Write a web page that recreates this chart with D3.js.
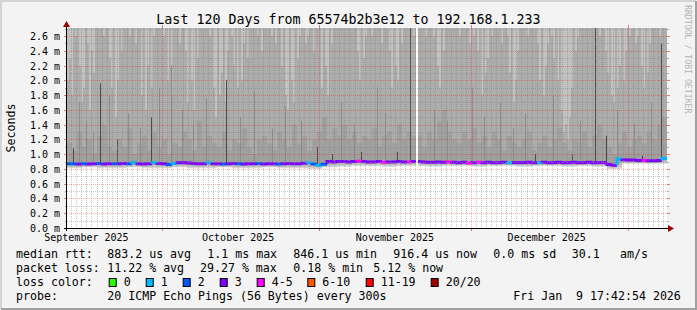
<!DOCTYPE html>
<html>
<head>
<meta charset="utf-8">
<title>Last 120 Days from 65574b2b3e12 to 192.168.1.233</title>
<script src="https://d3js.org/d3.v7.min.js"></script>
<style>
  body { margin: 0; background: #f3f3f3; }
  svg { display: block; font-family: "DejaVu Sans Mono", monospace; }
</style>
</head>
<body>
<svg id="chart" width="697" height="310"></svg>
<script>
// time window of the plot
var startTime = new Date(2025, 8, 12, 3, 50),
    endTime = new Date(2026, 0, 8, 18, 30);

// median rtt in ms, one value per day
var medianMs = [
  0.87,0.87,0.865,0.87,0.868,0.87,0.872,0.868,0.87,0.87,
  0.87,0.872,0.87,0.885,0.87,0.868,0.87,0.885,0.872,0.87,
  0.86,0.875,0.885,0.885,0.88,0.875,0.87,0.87,0.885,0.87,
  0.87,0.868,0.87,0.872,0.87,0.868,0.87,0.87,0.872,0.868,
  0.87,0.87,0.868,0.87,0.875,0.87,0.87,0.878,0.88,0.865,
  0.85,0.862,0.9,0.895,0.9,0.9,0.895,0.9,0.905,0.9,
  0.895,0.895,0.9,0.89,0.895,0.895,0.9,0.895,0.895,0.9,
  0.9,0.895,0.89,0.89,0.895,0.89,0.895,0.89,0.885,0.89,
  0.88,0.885,0.89,0.885,0.89,0.885,0.885,0.89,0.885,0.885,
  0.885,0.885,0.89,0.885,0.885,0.89,0.885,0.885,0.89,0.885,
  0.885,0.89,0.885,0.885,0.89,0.885,0.885,0.885,0.86,0.85,
  0.935,0.925,0.92,0.92,0.915,0.915,0.91,0.91,0.915,0.94
];
// lost pings (of 20) per day, sets median colour
var lossPings = [
  2,2,3,2,3,3,2,3,3,2,
  3,3,2,1,3,3,3,1,3,3,
  2,1,3,3,3,3,3,3,1,3,
  3,2,3,3,2,3,3,3,2,3,
  3,3,2,3,3,3,3,3,1,2,
  1,2,3,3,3,3,3,3,4,3,
  3,3,3,4,3,3,3,3,4,3,
  3,3,3,3,3,3,4,3,3,3,
  4,3,4,3,3,3,3,3,1,3,
  3,3,3,3,1,3,3,3,3,3,
  3,3,3,3,3,3,3,3,3,3,
  1,3,3,3,3,4,3,3,3,1
];
// smoke: fastest pings (ms)
var smokeLowMs = [
  0.81,0.82,0.81,0.81,0.82,0.81,0.81,0.82,0.81,0.81,
  0.82,0.81,0.81,0.82,0.81,0.81,0.80,0.82,0.83,0.84,
  0.84,0.83,0.84,0.84,0.83,0.84,0.84,0.83,0.84,0.84,
  0.83,0.84,0.84,0.83,0.84,0.83,0.80,0.87,0.87,0.87
];
// smoke: upper edge of the dense band near the median (ms), per day
var smokeDarkMs = [
  1.15,1.05,1.3,1.1,1.2,1.0,1.25,1.4,1.1,1.05,
  1.2,1.1,1.35,1.0,1.15,1.25,1.05,1.3,1.1,1.2,
  1.0,1.15,1.1,1.3,1.2,1.05,1.45,1.1,1.25,1.15,
  1.1,1.3,1.05,1.2,1.15,1.35,1.1,1.0,1.2,1.25,
  1.15,1.05,1.3,1.2,1.1,1.4,1.15,1.25,1.05,1.2,
  1.3,1.5,1.2,1.35,1.25,1.4,1.2,1.3,1.15,1.25,
  1.2,1.35,1.1,1.25,1.3,1.15,1.4,1.2,1.3,1.25,
  1.25,1.1,1.3,1.2,1.45,1.6,1.3,1.2,1.15,1.3,
  1.2,1.35,1.15,1.25,1.1,1.3,1.2,1.05,1.25,1.15,
  1.1,1.2,1.3,1.05,1.15,1.25,1.1,1.2,1.35,1.15,
  1.05,1.2,1.15,1.3,1.1,1.25,1.4,1.2,1.1,1.0,
  1.15,1.3,1.1,1.2,1.25,1.15,1.3,1.2,1.4,1.5
];
// smoke: upper edge of the middle band (ms), 300 slots
var smokeMidMs = [
  2.0,2.3,1.8,2.8,2.6, 2.8,2.2,1.7,1.9,2.8, 2.5,1.6,2.4,2.1,2.8,
  2.8,2.7,2.8,2.6,2.8, 2.8,2.3,1.9,2.8,1.5, 2.0,2.8,2.4,2.8,2.7,
  2.8,2.6,2.8,2.8,2.5, 2.8,2.7,1.8,2.8,1.6, 2.2,2.8,1.9,2.6,2.8,
  2.8,2.7,2.8,2.6,2.8, 2.0,2.8,1.8,2.8,2.7, 2.8,2.5,2.8,2.8,2.4,
  1.7,2.8,2.0,1.6,2.8, 2.3,2.8,2.8,2.7,2.8, 2.8,2.6,2.8,1.9,1.5,
  2.8,1.8,2.1,2.8,1.7, 2.4,2.8,2.6,2.2,2.8, 1.9,2.8,2.0,2.5,2.8,
  2.3,2.8,2.7,2.8,2.8, 2.6,2.8,2.4,2.8,2.8, 2.7,2.8,2.6,2.8,2.5,
  2.8,2.7,2.2,2.8,1.8, 1.6,2.8,2.0,1.7,2.8, 2.3,2.6,2.8,2.8,2.5,
  2.6,2.8,2.8,2.4,2.8, 2.7,2.8,1.9,2.8,2.2, 1.8,2.8,2.5,2.8,2.8,
  2.8,2.8,2.8,2.8,2.8, 2.8,2.8,2.7,2.8,2.8, 2.4,2.0,2.8,2.3,2.6,
  2.8,2.8,2.6,2.8,2.7, 2.8,2.8,2.5,2.8,2.8, 2.7,2.4,1.9,2.8,2.2,
  2.0,2.8,2.5,2.8,2.8, 2.8,2.8,2.8,2.6,2.8, 2.8,2.7,2.8,2.8,2.6,
  2.8,2.8,2.8,2.6,2.8, 2.2,1.9,2.8,2.4,2.8, 2.8,2.8,2.7,2.8,2.8,
  2.8,2.6,2.8,2.8,2.7, 2.8,2.5,2.8,2.6,2.8, 2.4,2.8,1.8,2.8,2.1,
  2.3,2.8,2.6,2.8,2.8, 2.7,2.8,2.5,2.8,2.8, 2.6,2.1,2.8,1.7,2.0,
  2.4,2.8,2.7,2.8,2.8, 2.6,2.8,2.8,2.7,2.8, 2.5,2.0,2.8,1.8,2.2,
  2.5,2.8,2.6,2.3,2.8, 2.0,2.8,1.6,1.3,1.4, 1.2,1.5,1.9,2.8,2.4,
  2.6,2.8,2.8,2.7,2.8, 2.8,2.8,2.8,2.8,2.8, 2.8,2.6,2.8,2.7,2.4,
  2.1,2.8,1.8,1.7,2.8, 1.9,2.2,2.8,2.0,2.4, 2.8,2.6,2.7,2.8,2.5,
  2.6,2.8,2.2,1.9,2.8, 2.1,2.5,2.8,2.8,2.7, 2.8,2.6,2.8,2.8,2.7
];
// slow samples that stand out of the smoke [time, ms]
var spikes = [
  ["2025-09-13T08:00", 1.08], ["2025-09-18T16:20", 1.96], ["2025-09-22T01:00", 1.2],
  ["2025-09-28T18:20", 1.5], ["2025-10-13T14:10", 2.0],
  ["2025-10-31T14:00", 1.1], ["2025-11-03T13:30", 1.0], ["2025-11-09T06:20", 1.03],
  ["2025-11-16T08:40", 1.03], ["2025-11-19T01:30", 2.8], ["2025-12-13T15:50", 1.0],
  ["2025-12-20T23:00", 1.0], ["2025-12-25T13:30", 2.8], ["2025-12-27T16:00", 1.25],
  ["2026-01-03T20:00", 0.98], ["2026-01-07T13:40", 2.5]
];
// fainter streaks inside the smoke [time, ms]
var streaks = [
  ["2025-09-14T12:00", 1.7], ["2025-09-15T20:00", 1.45], ["2025-09-17T06:00", 1.3],
  ["2025-09-20T10:00", 1.8], ["2025-09-24T03:00", 1.55], ["2025-09-26T14:00", 1.35],
  ["2025-09-30T08:00", 1.9], ["2025-10-02T17:20", 2.2], ["2025-10-04T20:00", 1.6],
  ["2025-10-07T02:00", 1.4], ["2025-10-09T15:00", 1.75], ["2025-10-16T10:00", 1.5],
  ["2025-10-19T04:00", 1.85], ["2025-10-22T18:00", 1.35], ["2025-10-25T08:00", 1.65],
  ["2025-10-28T12:00", 1.45], ["2025-11-05T06:00", 1.7], ["2025-11-07T20:00", 1.4],
  ["2025-11-12T10:00", 1.9], ["2025-11-14T02:00", 1.55], ["2025-11-23T18:00", 1.6],
  ["2025-11-26T08:00", 1.45], ["2025-12-01T05:00", 1.9], ["2025-12-03T12:00", 1.5],
  ["2025-12-06T20:00", 1.7], ["2025-12-09T08:00", 1.35], ["2025-12-11T16:00", 1.55],
  ["2025-12-17T04:00", 1.8], ["2025-12-22T12:00", 1.45], ["2025-12-29T20:00", 1.6],
  ["2026-01-02T06:00", 1.4], ["2026-01-05T14:00", 1.7]
];
var outages = [["2025-11-20T03:00", "2025-11-20T14:00"]];

var yTicks = [0, 0.2, 0.4, 0.6, 0.8, 1.0, 1.2, 1.4, 1.6, 1.8, 2.0, 2.2, 2.4, 2.6];
var monthStarts = [new Date(2025, 9, 1), new Date(2025, 10, 1), new Date(2025, 11, 1), new Date(2026, 0, 1)];
var monthLabels = [
  [new Date(2025, 8, 16), "September 2025"], [new Date(2025, 9, 16), "October 2025"],
  [new Date(2025, 10, 16), "November 2025"], [new Date(2025, 11, 16), "December 2025"]
];
var lossLabels = ["0", "1", "2", "3", "4-5", "6-10", "11-19", "20/20"];
var lossColors = ["#26ff00", "#00b8ff", "#0059ff", "#7e00ff", "#ff00ff", "#ff5500", "#ff0000", "#a10000"];

var svg = d3.select("#chart");
var W = 697, H = 310;

var x = d3.scaleTime().domain([startTime, endTime]).range([67, 667]);
var y = d3.scaleLinear().domain([0, 2.708]).range([228, 28]);
var lossColor = d3.scaleThreshold().domain([1, 2, 3, 4, 6, 11, 20]).range(lossColors);

function slotTime(arr, i) {
  return new Date(+startTime + i * (endTime - startTime) / arr.length);
}
function valueAt(arr, t) {
  var i = Math.floor((t - startTime) / (endTime - startTime) * arr.length);
  return arr[Math.max(0, Math.min(arr.length - 1, i))];
}
function px(t) { return Math.round(x(t)); }

// frame
svg.append("rect").attr("width", W).attr("height", H).attr("fill", "#f3f3f3");
svg.append("path").attr("d", "M1,309V1H696").attr("fill", "none").attr("stroke", "#d4d4d4").attr("stroke-width", 2);
svg.append("path").attr("d", "M1,309H696V1").attr("fill", "none").attr("stroke", "#a0a0a0").attr("stroke-width", 2);

// canvas
svg.append("rect").attr("x", 67).attr("y", 28).attr("width", 600).attr("height", 200).attr("fill", "#ffffff");

var defs = svg.append("defs");
var grad = defs.append("linearGradient").attr("id", "below").attr("x1", 0).attr("y1", 0).attr("x2", 0).attr("y2", 1);
grad.append("stop").attr("offset", "0%").attr("stop-color", "#9c9c9c");
grad.append("stop").attr("offset", "100%").attr("stop-color", "#dcdcdc");

var smoke = svg.append("g");
var yTop = y.range()[1];

function slotRects(cls, arr) {
  return smoke.selectAll("." + cls).data(arr).enter().append("rect")
    .attr("class", cls)
    .attr("x", function(d, i) { return px(slotTime(arr, i)); })
    .attr("width", function(d, i) { return px(slotTime(arr, i + 1)) - px(slotTime(arr, i)); });
}

// light smoke up to the top
slotRects("light", medianMs)
  .attr("y", yTop)
  .attr("height", function(d) { return y(d) - yTop; })
  .attr("fill", "#c1c1c1");

// middle smoke band
slotRects("mid", smokeMidMs)
  .attr("y", function(d) { return Math.max(yTop, y(d)); })
  .attr("height", function(d, i) {
    var m = valueAt(medianMs, slotTime(smokeMidMs, i + 0.5));
    return y(m) - Math.max(yTop, y(d));
  })
  .attr("fill", "#acacac");

// dense band right above the median
slotRects("dark", smokeDarkMs)
  .attr("y", function(d) { return y(d); })
  .attr("height", function(d, i) { return y(medianMs[i]) - y(d); })
  .attr("fill", "#a0a0a0");

// below the median
slotRects("low", medianMs)
  .attr("y", function(d) { return y(d); })
  .attr("height", function(d, i) { return y(valueAt(smokeLowMs, slotTime(medianMs, i + 0.5))) - y(d); })
  .attr("fill", "url(#below)");

function spikeLines(cls, arr, color) {
  smoke.selectAll("." + cls).data(arr).enter().append("line")
    .attr("class", cls)
    .attr("x1", function(d) { return px(new Date(d[0])) + 0.5; })
    .attr("x2", function(d) { return px(new Date(d[0])) + 0.5; })
    .attr("y1", function(d) { return y(valueAt(medianMs, new Date(d[0]))); })
    .attr("y2", function(d) { return Math.max(yTop, y(d[1])); })
    .attr("stroke", color)
    .attr("stroke-width", 1);
}
spikeLines("streak", streaks, "#8c8c8c");
spikeLines("spike", spikes, "#4a4a4a");

// median line coloured by loss
var line = svg.append("g");
line.selectAll("path").data(medianMs).enter().append("path")
  .attr("d", function(d, i) {
    var x0 = px(slotTime(medianMs, i)), x1 = px(slotTime(medianMs, i + 1));
    var prev = i > 0 ? medianMs[i - 1] : d;
    return "M" + x0 + "," + y(prev) + "V" + y(d) + "H" + x1;
  })
  .attr("fill", "none")
  .attr("stroke", function(d, i) { return lossColor(lossPings[i]); })
  .attr("stroke-width", 3);

// missing data
svg.selectAll(".gap").data(outages).enter().append("rect")
  .attr("x", function(d) { return px(new Date(d[0])); })
  .attr("width", function(d) { return Math.max(2, px(new Date(d[1])) - px(new Date(d[0]))); })
  .attr("y", yTop)
  .attr("height", 200)
  .attr("fill", "#ffffff");

// grid
var grid = svg.append("g");
var minorY = d3.range(1, 28, 2).map(function(k) { return k / 10; }).filter(function(v) { return y(v) > yTop; });
grid.selectAll(".hmin").data(minorY).enter().append("line")
  .attr("x1", 67).attr("x2", 667)
  .attr("y1", function(d) { return Math.round(y(d)) + 0.5; })
  .attr("y2", function(d) { return Math.round(y(d)) + 0.5; })
  .attr("stroke", "rgba(130,130,130,0.45)").attr("stroke-dasharray", "1,1");
var days = d3.timeDay.range(d3.timeDay.ceil(startTime), endTime).filter(function(d) { return d.getDate() !== 1; });
grid.selectAll(".vmin").data(days).enter().append("line")
  .attr("x1", function(d) { return px(d) + 0.5; })
  .attr("x2", function(d) { return px(d) + 0.5; })
  .attr("y1", 28).attr("y2", 228)
  .attr("stroke", "rgba(130,130,130,0.45)").attr("stroke-dasharray", "1,1");
grid.selectAll(".hmaj").data(yTicks.slice(1)).enter().append("line")
  .attr("x1", 67).attr("x2", 667)
  .attr("y1", function(d) { return Math.round(y(d)) + 0.5; })
  .attr("y2", function(d) { return Math.round(y(d)) + 0.5; })
  .attr("stroke", "rgba(255,0,0,0.32)").attr("stroke-dasharray", "1,1");
grid.selectAll(".vmaj").data(monthStarts).enter().append("line")
  .attr("x1", function(d) { return px(d) + 0.5; })
  .attr("x2", function(d) { return px(d) + 0.5; })
  .attr("y1", 28).attr("y2", 228)
  .attr("stroke", "rgba(255,0,0,0.32)").attr("stroke-dasharray", "1,1");

// ticks outside the canvas
grid.selectAll(".ytick").data(yTicks).enter().append("path")
  .attr("d", function(d) { var yy = Math.round(y(d)) + 0.5; return "M64," + yy + "H67M667," + yy + "H670"; })
  .attr("stroke", "rgba(200,0,0,0.5)");
grid.selectAll(".ymtick").data(minorY).enter().append("path")
  .attr("d", function(d) { var yy = Math.round(y(d)) + 0.5; return "M65," + yy + "H67M667," + yy + "H669"; })
  .attr("stroke", "rgba(120,120,120,0.6)");
grid.selectAll(".xtick").data(monthStarts).enter().append("path")
  .attr("d", function(d) { var xx = px(d) + 0.5; return "M" + xx + ",25V28M" + xx + ",228V231"; })
  .attr("stroke", "rgba(200,0,0,0.5)");

// axes with arrows
svg.append("line").attr("x1", 64).attr("x2", 669).attr("y1", 228.5).attr("y2", 228.5).attr("stroke", "#000");
svg.append("line").attr("x1", 66.5).attr("x2", 66.5).attr("y1", 231).attr("y2", 25).attr("stroke", "#000");
svg.append("path").attr("d", "M668,225L674,228.5L668,232Z").attr("fill", "#9c0000");
svg.append("path").attr("d", "M63,27L66.5,21L70,27Z").attr("fill", "#9c0000");

// y labels
svg.selectAll(".ylab").data(yTicks).enter().append("text")
  .attr("x", 60)
  .attr("y", function(d) { return Math.round(y(d)) + 3.8; })
  .attr("text-anchor", "end")
  .style("font-size", "10px")
  .text(function(d) { return d.toFixed(1) + " m"; });

// month labels
svg.selectAll(".xlab").data(monthLabels).enter().append("text")
  .attr("x", function(d) { return x(d[0]); })
  .attr("y", 241)
  .attr("text-anchor", "middle")
  .style("font-size", "10px")
  .text(function(d) { return d[1]; });

// title and side texts
svg.append("text").attr("x", 348.5).attr("y", 24).attr("text-anchor", "middle")
  .style("font-size", "13.3px")
  .text("Last 120 Days from 65574b2b3e12 to 192.168.1.233");
svg.append("text").attr("transform", "translate(15,128) rotate(-90)").attr("text-anchor", "middle")
  .style("font-size", "11.6px").text("Seconds");
svg.append("text").attr("transform", "translate(684.5,5) rotate(90)")
  .style("font-size", "8.2px").attr("fill", "#b5b5b5").text("RRDTOOL / TOBI OETIKER");

// legend
var legend = svg.append("g").style("font-size", "11.6px");
var legendRows = [
  [258, [[16, "median rtt:"], [107.3, "883.2 us avg"], [207.3, "1.1 ms max"], [293.3, "846.1 us min"],
         [393.3, "916.4 us now"], [493.3, "0.0 ms sd"], [571.7, "30.1"], [620, "am/s"]]],
  [272, [[16, "packet loss:"], [107.3, "11.22 % avg"], [200, "29.27 % max"], [293.3, "0.18 % min"],
         [373.3, "5.12 % now"]]],
  [286, [[16, "loss color:"]]],
  [300, [[16, "probe:"], [107.3, "20 ICMP Echo Pings (56 Bytes) every 300s"], [513.3, "Fri Jan  9 17:42:54 2026"]]]
];
legendRows.forEach(function(row) {
  row[1].forEach(function(s) {
    legend.append("text").attr("x", s[0]).attr("y", row[0]).style("white-space", "pre").text(s[1]);
  });
});
var swatchX = [108.7, 145.7, 182.7, 219.7, 256.7, 307.3, 365.7, 430.7];
lossLabels.forEach(function(lab, i) {
  legend.append("rect").attr("x", swatchX[i] + 0.5).attr("y", 278.5).attr("width", 7).attr("height", 8)
    .attr("fill", lossColors[i]).attr("stroke", "#000");
  legend.append("text").attr("x", swatchX[i] + 15).attr("y", 286).text(lab);
});
</script>
</body>
</html>
